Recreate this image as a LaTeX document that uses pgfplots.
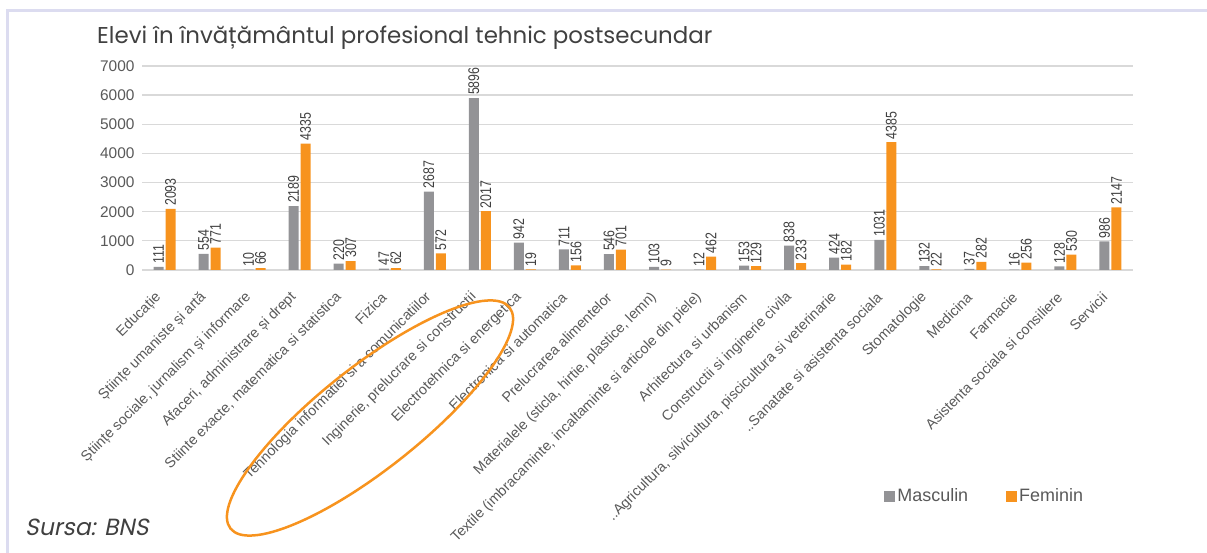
\documentclass[border=0pt]{standalone}
\usepackage{fontspec}
\usepackage{pgfplots}
\pgfplotsset{compat=1.18}
\setmainfont{Liberation Sans}
\newfontfamily\titlefont{Poppins}
\newfontfamily\sursafont[FakeSlant=0.2]{Poppins}
\newfontfamily\condfont[FakeStretch=0.8]{Liberation Sans}
\definecolor{barGray}{HTML}{939396}
\definecolor{barOrange}{HTML}{F7931E}
\definecolor{txt}{HTML}{595959}
\definecolor{lbl}{HTML}{404040}
\definecolor{titlec}{HTML}{404040}
\definecolor{gridc}{HTML}{D9D9D9}
\definecolor{framec}{HTML}{DCDCF0}
\begin{document}
\begin{tikzpicture}[x=1bp,y=1bp]
\path[use as bounding box] (0,0) rectangle (1207,553);
\draw[framec, line width=2.5bp] (7.5,0) -- (7.5,542.5) -- (1207,542.5);
\node[anchor=west, inner sep=0pt, text=titlec, font=\titlefont\fontsize{23}{26}\selectfont] at (97,515) {Elevi în învățământul profesional tehnic postsecundar};
\node[anchor=base west, inner sep=0pt, text=titlec, font=\sursafont\fontsize{23.5}{26}\selectfont] at (25,17) {Sursa: BNS};
\begin{axis}[
  at={(142bp,283bp)}, anchor=south west,
  scale only axis, width=991bp, height=204bp,
  xmin=-0.5, xmax=21.5, ymin=0, ymax=7000,
  ybar=2bp, bar width=10bp,
  axis line style={draw=none},
  tick style={draw=none},
  ymajorgrids, grid style={gridc, line width=1.3bp},
  ytick={0,1000,...,7000},
  /pgf/number format/assume math mode=true,
  /pgf/number format/set thousands separator={},
  yticklabel style={font=\fontsize{15.5}{18}\selectfont, text=txt, xshift=-4bp},
  xtick={0,...,21},
  xticklabels={{Educație},{Științe umaniste și artă},{Științe sociale, jurnalism și informare},{Afaceri, administrare și drept},{Stiinte exacte, matematica si statistica},{Fizica},{Tehnologia informatiei si a  comunicatiilor},{Inginerie, prelucrare si constructii},{Electrotehnica si energetica},{Electronica si automatica},{Prelucrarea alimentelor},{Materialele (sticla, hirtie, plastice, lemn)},{Textile (imbracaminte, incaltaminte si articole din piele)},{Arhitectura si urbanism},{Constructii si inginerie civila},{..Agricultura, silvicultura, piscicultura si veterinarie},{..Sanatate si asistenta sociala},{Stomatologie},{Medicina},{Farmacie},{Asistenta sociala si consiliere},{Servicii}},
  xticklabel style={xshift=-5bp, yshift=-20bp, anchor=east, rotate=45, font=\fontsize{14.4}{17}\selectfont, text=txt, inner sep=1bp},
  nodes near coords,
  every node near coord/.append style={rotate=90, anchor=west, font=\condfont\fontsize{15.5}{17}\selectfont, text=lbl, inner sep=3bp},
  legend columns=2,
  legend style={at={(0.749,-1.108)}, anchor=west, draw=none, fill=none, inner sep=0pt, font=\fontsize{18}{20}\selectfont, text=txt, /tikz/every even column/.append style={column sep=36bp}, nodes={inner sep=2bp}},
]
\addplot[fill=barGray, draw=none, legend image code/.code={\fill[barGray] (0bp,-5.5bp) rectangle (11bp,5.5bp);}] coordinates {
(0,111) (1,554) (2,10) (3,2189) (4,220) (5,47) (6,2687) (7,5896) (8,942) (9,711) (10,546) (11,103) (12,12) (13,153) (14,838) (15,424) (16,1031) (17,132) (18,37) (19,16) (20,128) (21,986)};
\addplot[fill=barOrange, draw=none, legend image code/.code={\fill[barOrange] (0bp,-5.5bp) rectangle (11bp,5.5bp);}] coordinates {
(0,2093) (1,771) (2,66) (3,4335) (4,307) (5,62) (6,572) (7,2017) (8,19) (9,156) (10,701) (11,9) (12,462) (13,129) (14,233) (15,182) (16,4385) (17,22) (18,282) (19,256) (20,530) (21,2147)};
\legend{Masculin, Feminin}
\end{axis}
\draw[barOrange, line width=2.5bp, rotate around={38.4:(370,135)}] (370,135) ellipse [x radius=178bp, y radius=51bp];
\end{tikzpicture}
\end{document}
